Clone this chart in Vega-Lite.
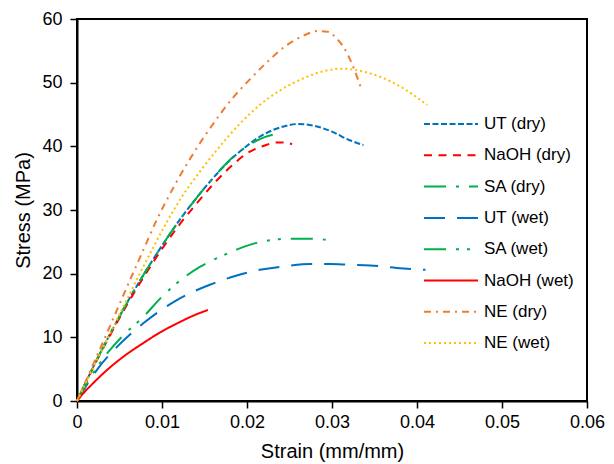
{
  "$schema": "https://vega.github.io/schema/vega-lite/v6.json",
  "width": 510,
  "height": 382,
  "autosize": {"type": "none"},
  "padding": {"left": 77, "top": 19, "right": 27, "bottom": 63},
  "background": "white",
  "config": {
    "font": "Liberation Sans",
    "view": {"stroke": "#000", "strokeWidth": 2},
    "axis": {"domainColor": "#000", "domainWidth": 2, "tickColor": "#000", "tickWidth": 1.5, "tickSize": 7, "grid": false, "labelColor": "#000", "labelFontSize": 18, "titleFontSize": 20, "titleFontWeight": "normal", "titleColor": "#000", "labelFont": "Liberation Sans", "titleFont": "Liberation Sans"}
  },
  "data": {"values": [
    {"s":"UT (dry)","x":0,"y":0},{"s":"UT (dry)","x":0.002,"y":5.6},{"s":"UT (dry)","x":0.004,"y":10.8},{"s":"UT (dry)","x":0.006,"y":15.7},{"s":"UT (dry)","x":0.008,"y":20.2},{"s":"UT (dry)","x":0.01,"y":24.4},{"s":"UT (dry)","x":0.012,"y":28.3},{"s":"UT (dry)","x":0.014,"y":31.8},{"s":"UT (dry)","x":0.016,"y":35.0},{"s":"UT (dry)","x":0.018,"y":37.8},{"s":"UT (dry)","x":0.02,"y":40.1},{"s":"UT (dry)","x":0.022,"y":41.9},{"s":"UT (dry)","x":0.024,"y":43.0},{"s":"UT (dry)","x":0.026,"y":43.5},{"s":"UT (dry)","x":0.028,"y":43.2},{"s":"UT (dry)","x":0.03,"y":42.3},{"s":"UT (dry)","x":0.032,"y":41.0},{"s":"UT (dry)","x":0.0337,"y":40.2},
    {"s":"NaOH (dry)","x":0,"y":0},{"s":"NaOH (dry)","x":0.002,"y":5.5},{"s":"NaOH (dry)","x":0.004,"y":10.6},{"s":"NaOH (dry)","x":0.006,"y":15.4},{"s":"NaOH (dry)","x":0.008,"y":19.8},{"s":"NaOH (dry)","x":0.01,"y":23.9},{"s":"NaOH (dry)","x":0.012,"y":27.6},{"s":"NaOH (dry)","x":0.014,"y":30.9},{"s":"NaOH (dry)","x":0.016,"y":34.0},{"s":"NaOH (dry)","x":0.018,"y":36.7},{"s":"NaOH (dry)","x":0.02,"y":38.9},{"s":"NaOH (dry)","x":0.022,"y":40.1},{"s":"NaOH (dry)","x":0.0235,"y":40.6},{"s":"NaOH (dry)","x":0.0245,"y":40.6},{"s":"NaOH (dry)","x":0.0253,"y":40.3},
    {"s":"SA (dry)","x":0,"y":0},{"s":"SA (dry)","x":0.002,"y":5.6},{"s":"SA (dry)","x":0.004,"y":10.8},{"s":"SA (dry)","x":0.006,"y":15.7},{"s":"SA (dry)","x":0.008,"y":20.2},{"s":"SA (dry)","x":0.01,"y":24.4},{"s":"SA (dry)","x":0.012,"y":28.3},{"s":"SA (dry)","x":0.014,"y":31.8},{"s":"SA (dry)","x":0.016,"y":35.0},{"s":"SA (dry)","x":0.018,"y":37.9},{"s":"SA (dry)","x":0.02,"y":40.0},{"s":"SA (dry)","x":0.022,"y":41.4},{"s":"SA (dry)","x":0.0237,"y":42.0},
    {"s":"UT (wet)","x":0,"y":0},{"s":"UT (wet)","x":0.001,"y":2.2},{"s":"UT (wet)","x":0.00235,"y":4.9},{"s":"UT (wet)","x":0.0047,"y":8.5},{"s":"UT (wet)","x":0.0078,"y":12.2},{"s":"UT (wet)","x":0.0118,"y":15.9},{"s":"UT (wet)","x":0.0157,"y":18.3},{"s":"UT (wet)","x":0.0188,"y":19.7},{"s":"UT (wet)","x":0.0215,"y":20.6},{"s":"UT (wet)","x":0.0247,"y":21.2},{"s":"UT (wet)","x":0.0275,"y":21.5},{"s":"UT (wet)","x":0.0298,"y":21.5},{"s":"UT (wet)","x":0.032,"y":21.4},{"s":"UT (wet)","x":0.0345,"y":21.3},{"s":"UT (wet)","x":0.0376,"y":20.9},{"s":"UT (wet)","x":0.041,"y":20.6},
    {"s":"SA (wet)","x":0,"y":0},{"s":"SA (wet)","x":0.001,"y":2.5},{"s":"SA (wet)","x":0.002,"y":4.6},{"s":"SA (wet)","x":0.0035,"y":7.4},{"s":"SA (wet)","x":0.0055,"y":10.4},{"s":"SA (wet)","x":0.0078,"y":13.2},{"s":"SA (wet)","x":0.01,"y":16.4},{"s":"SA (wet)","x":0.0122,"y":19.0},{"s":"SA (wet)","x":0.0145,"y":21.1},{"s":"SA (wet)","x":0.0169,"y":22.7},{"s":"SA (wet)","x":0.019,"y":23.9},{"s":"SA (wet)","x":0.021,"y":24.8},{"s":"SA (wet)","x":0.023,"y":25.3},{"s":"SA (wet)","x":0.0247,"y":25.5},{"s":"SA (wet)","x":0.027,"y":25.5},{"s":"SA (wet)","x":0.0288,"y":25.4},{"s":"SA (wet)","x":0.0302,"y":25.1},
    {"s":"NaOH (wet)","x":0,"y":0},{"s":"NaOH (wet)","x":0.0008,"y":1.3},{"s":"NaOH (wet)","x":0.0016,"y":2.4},{"s":"NaOH (wet)","x":0.0039,"y":5.3},{"s":"NaOH (wet)","x":0.0059,"y":7.4},{"s":"NaOH (wet)","x":0.0078,"y":9.1},{"s":"NaOH (wet)","x":0.0098,"y":10.8},{"s":"NaOH (wet)","x":0.0118,"y":12.2},{"s":"NaOH (wet)","x":0.0135,"y":13.3},{"s":"NaOH (wet)","x":0.0154,"y":14.3},
    {"s":"NE (dry)","x":0,"y":0},{"s":"NE (dry)","x":0.0035,"y":10.6},{"s":"NE (dry)","x":0.0063,"y":19.2},{"s":"NE (dry)","x":0.0075,"y":22.8},{"s":"NE (dry)","x":0.0094,"y":28.5},{"s":"NE (dry)","x":0.0115,"y":33.9},{"s":"NE (dry)","x":0.0137,"y":38.9},{"s":"NE (dry)","x":0.016,"y":43.5},{"s":"NE (dry)","x":0.0182,"y":47.4},{"s":"NE (dry)","x":0.0204,"y":50.6},{"s":"NE (dry)","x":0.0225,"y":53.4},{"s":"NE (dry)","x":0.0247,"y":55.9},{"s":"NE (dry)","x":0.0265,"y":57.3},{"s":"NE (dry)","x":0.0283,"y":58.1},{"s":"NE (dry)","x":0.0295,"y":58.0},{"s":"NE (dry)","x":0.0305,"y":57.0},{"s":"NE (dry)","x":0.0314,"y":55.5},{"s":"NE (dry)","x":0.0324,"y":52.8},{"s":"NE (dry)","x":0.0335,"y":48.8},
    {"s":"NE (wet)","x":0,"y":0},{"s":"NE (wet)","x":0.003,"y":8.2},{"s":"NE (wet)","x":0.0047,"y":12.8},{"s":"NE (wet)","x":0.0059,"y":16.0},{"s":"NE (wet)","x":0.0075,"y":20.3},{"s":"NE (wet)","x":0.009,"y":24.2},{"s":"NE (wet)","x":0.0106,"y":28.2},{"s":"NE (wet)","x":0.0125,"y":32.4},{"s":"NE (wet)","x":0.0145,"y":36.1},{"s":"NE (wet)","x":0.0165,"y":39.5},{"s":"NE (wet)","x":0.0192,"y":43.6},{"s":"NE (wet)","x":0.0215,"y":46.5},{"s":"NE (wet)","x":0.0239,"y":48.8},{"s":"NE (wet)","x":0.0265,"y":50.6},{"s":"NE (wet)","x":0.029,"y":51.8},{"s":"NE (wet)","x":0.0312,"y":52.2},{"s":"NE (wet)","x":0.0335,"y":51.8},{"s":"NE (wet)","x":0.0357,"y":50.9},{"s":"NE (wet)","x":0.0384,"y":49.1},{"s":"NE (wet)","x":0.0412,"y":46.5}
  ]},
  "mark": {"type": "line", "strokeCap": "butt", "interpolate": "monotone"},
  "encoding": {
    "x": {"field": "x", "type": "quantitative", "scale": {"domain": [0, 0.06], "nice": false}, "axis": {"values": [0, 0.01, 0.02, 0.03, 0.04, 0.05, 0.06], "format": "~g", "title": "Strain (mm/mm)", "labelPadding": 5, "titlePadding": 10, "labelFlush": false}},
    "y": {"field": "y", "type": "quantitative", "scale": {"domain": [0, 60], "nice": false}, "axis": {"values": [0, 10, 20, 30, 40, 50, 60], "title": "Stress (MPa)", "labelPadding": 8, "titlePadding": 8}},
    "order": {"field": "x", "type": "quantitative"},
    "color": {"field": "s", "type": "nominal", "title": null,
      "scale": {"domain": ["UT (dry)","NaOH (dry)","SA (dry)","UT (wet)","SA (wet)","NaOH (wet)","NE (dry)","NE (wet)"],
                "range": ["#0070C0","#FF0000","#00B050","#0070C0","#00B050","#FF0000","#ED7D31","#FFC000"]},
      "legend": {"orient": "none", "legendX": 346, "legendY": 96.5, "symbolType": "stroke", "symbolSize": 2916, "labelFontSize": 17, "labelColor": "#000", "labelFont": "Liberation Sans", "clipHeight": 17, "rowPadding": 13.3, "labelOffset": 5}},
    "strokeDash": {"field": "s", "type": "nominal", "title": null,
      "scale": {"domain": ["UT (dry)","NaOH (dry)","SA (dry)","UT (wet)","SA (wet)","NaOH (wet)","NE (dry)","NE (wet)"],
                "range": [[6,2.5],[8,6.5],[22,10,3,10],[21,12],[22,10,3,8,3,10],[1,0],[7,5,2,5],[2,3]]}},
    "strokeWidth": {"field": "s", "type": "nominal", "title": null,
      "scale": {"domain": ["UT (dry)","NaOH (dry)","SA (dry)","UT (wet)","SA (wet)","NaOH (wet)","NE (dry)","NE (wet)"],
                "range": [2,2,3.5,3.5,3.5,2,2,3]}}
  }
}
